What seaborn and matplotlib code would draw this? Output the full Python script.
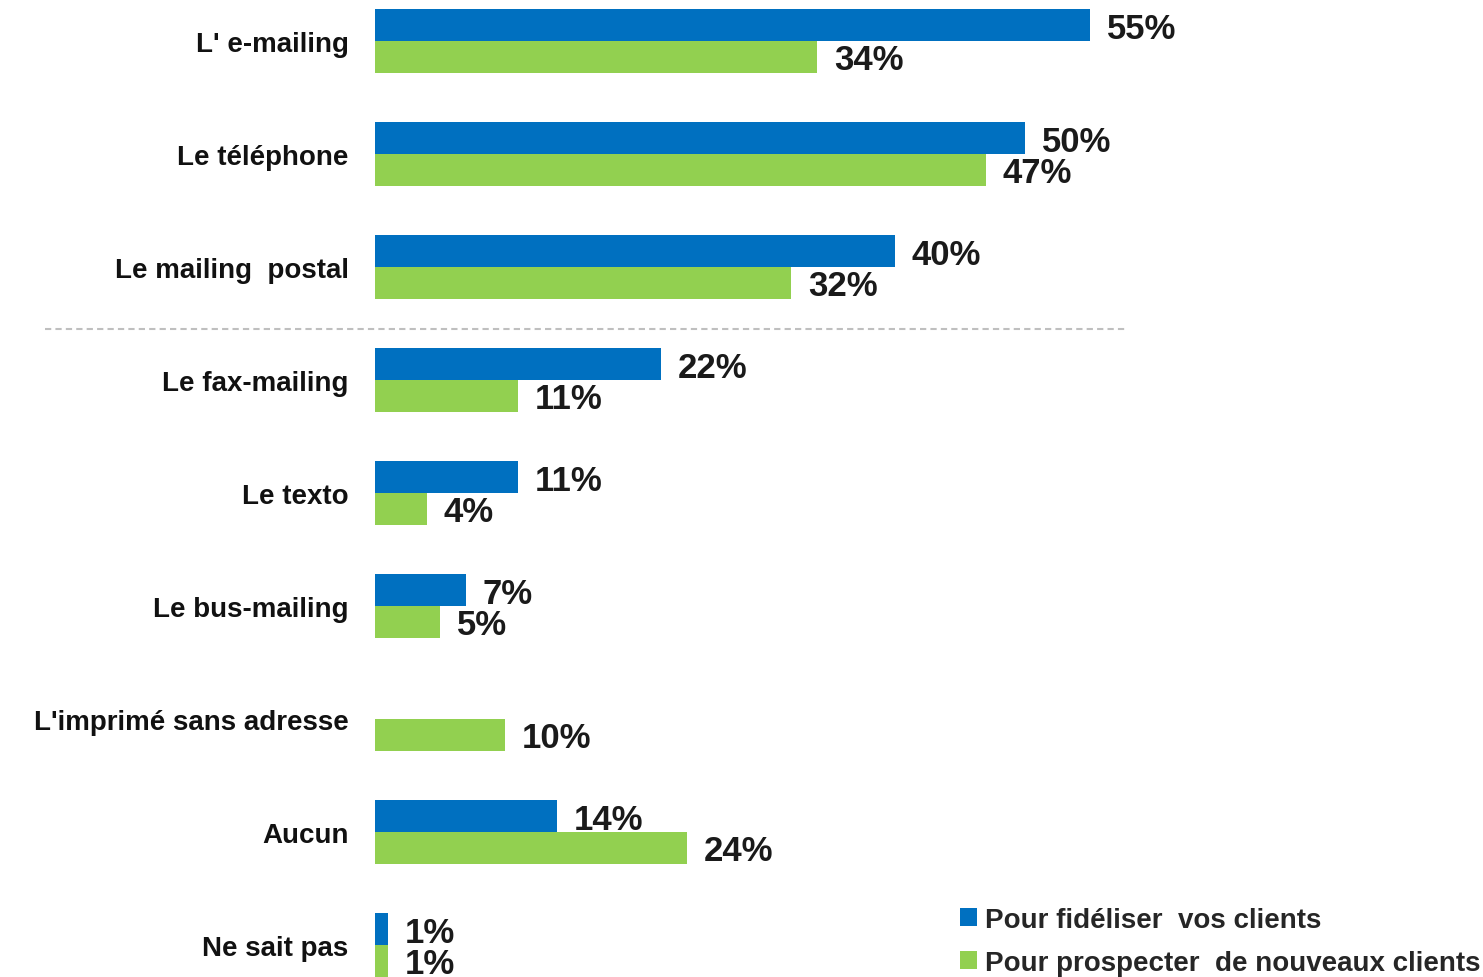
import numpy as np
import pandas as pd
import seaborn as sns
from matplotlib import pyplot as plt

# data
categories = ["L' e-mailing", "Le téléphone", "Le mailing  postal", "Le fax-mailing",
              "Le texto", "Le bus-mailing", "L'imprimé sans adresse", "Aucun", "Ne sait pas"]
fideliser = [55, 50, 40, 22, 11, 7, np.nan, 14, 1]
prospecter = [34, 47, 32, 11, 4, 5, 10, 24, 1]
series = ["Pour fidéliser  vos clients", "Pour prospecter  de nouveaux clients"]
colors = ["#0070C0", "#92D050"]

df = pd.DataFrame({
    "Canal": categories * 2,
    "Valeur": fideliser + prospecter,
    "Cible": [series[0]] * len(categories) + [series[1]] * len(categories),
})

sns.set_style('white')
plt.rcParams['font.family'] = ['Liberation Sans', 'DejaVu Sans']
plt.rcParams['font.weight'] = 'bold'

W, H = 1483, 978
fig = plt.figure(figsize=(W / 100, H / 100), dpi=100)
ax = fig.add_axes([375 / W, 0, 1 - 375 / W, 1])

sns.barplot(data=df, x="Valeur", y="Canal", hue="Cible", order=categories,
            hue_order=series, palette=colors, orient='h', width=0.56,
            gap=0, saturation=1, linewidth=0, ax=ax, legend=True)

px = 13.0  # pixels per percent
ax.set_xlim(0, (W - 375) / px)
ax.set_ylim((H - 42) / 113, -42 / 113)

# value labels
off = 0.14
for i, (a, b) in enumerate(zip(fideliser, prospecter)):
    if not np.isnan(a):
        ax.text(a + 1.3, i - off + 0.025, f"{a:.0f}%", va='center', ha='left',
                fontsize=25, fontweight='bold', color='#1a1a1a')
    ax.text(b + 1.3, i + off + 0.025, f"{b:.0f}%", va='center', ha='left',
            fontsize=25, fontweight='bold', color='#1a1a1a')

# dashed separator between the top three and the rest
ax.plot([(45 - 375) / px, (1125 - 375) / px], [2.55, 2.55], ls=(0, (3, 2)),
        color='#BFBFBF', lw=1.5, clip_on=False)

ax.set_xlabel('')
ax.set_ylabel('')
ax.set_xticks([])
ax.tick_params(axis='y', length=0, pad=19, labelsize=20)
for lab in ax.get_yticklabels():
    lab.set_fontweight('bold')
    lab.set_color('#111111')
sns.despine(ax=ax, left=True, bottom=True)

handles, labels = ax.get_legend_handles_labels()
ax.legend(handles, labels, loc='upper left', bbox_to_anchor=(960 / W, 1 - 908 / H),
          bbox_transform=fig.transFigure, frameon=False, fontsize=20,
          handlelength=0.6, handleheight=0.6, handletextpad=0.3,
          labelspacing=0.6, borderaxespad=0, borderpad=0)

fig.savefig("out.png", dpi=100)
